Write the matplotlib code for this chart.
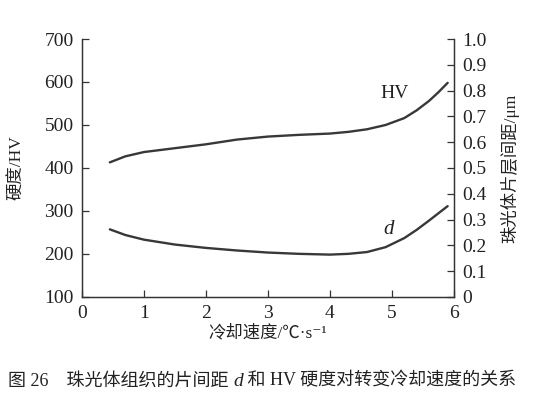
import matplotlib.pyplot as plt
import numpy as np

plt.rcParams['font.family'] = ['Liberation Serif', 'Noto Sans CJK SC', 'DejaVu Sans']

# cooling rate, degC/s
hv_x = [0.45, 0.7, 1.0, 1.5, 2.0, 2.5, 3.0, 3.5, 4.0, 4.3, 4.6, 4.9, 5.2, 5.4, 5.6, 5.75, 5.9]
hv = [413, 427, 437, 446, 455, 466, 473, 477, 480, 484, 490, 500, 516, 534, 556, 576, 598]
d_x = [0.45, 0.7, 1.0, 1.5, 2.0, 2.5, 3.0, 3.5, 4.0, 4.3, 4.6, 4.9, 5.2, 5.4, 5.6, 5.75, 5.9]
d = [0.262, 0.24, 0.222, 0.203, 0.19, 0.18, 0.172, 0.167, 0.164, 0.167, 0.174, 0.193, 0.228, 0.26, 0.296, 0.324, 0.352]

x_ticks = [0, 1, 2, 3, 4, 5, 6]
hv_ticks = [100, 200, 300, 400, 500, 600, 700]
d_ticks = [0, 0.1, 0.2, 0.3, 0.4, 0.5, 0.6, 0.7, 0.8, 0.9, 1.0]

line_c = '#383838'
txt_c = '#222222'
fs = 14

fig = plt.figure(figsize=(5.39, 3.98), dpi=100)
ax = fig.add_axes([0.152, 0.254, 0.690, 0.648])
ax2 = ax.twinx()

ax.plot(hv_x, hv, color=line_c, lw=1.7, solid_capstyle='round', solid_joinstyle='round')
ax2.plot(d_x, d, color=line_c, lw=1.7, solid_capstyle='round', solid_joinstyle='round')

ax.set_xlim(0, 6)
ax.set_ylim(100, 700)
ax2.set_ylim(0, 1.0)
ax.set_xticks(x_ticks)
ax.set_yticks(hv_ticks)
ax2.set_yticks(d_ticks)
ax2.set_yticklabels(['0' if v == 0 else f'{v:.1f}' for v in d_ticks])

for a in (ax, ax2):
    a.spines['top'].set_visible(False)
    for s in a.spines.values():
        s.set_linewidth(0.9)
        s.set_color('#333333')
    a.tick_params(direction='in', length=5, width=0.9, labelsize=fs,
                  colors='#333333', labelcolor=txt_c, pad=6)

ax.set_xlabel('冷却速度/℃·s⁻¹', fontsize=12.5, labelpad=2, color=txt_c)
ax.set_ylabel('硬度/HV', fontsize=12.5, labelpad=14, color=txt_c)
ax2.set_ylabel('珠光体片层间距/μm', fontsize=12.5, labelpad=10, color=txt_c)

ax.text(5.05, 574, 'HV', fontsize=14, ha='center', va='center', color=txt_c)
ax2.text(4.94, 0.263, 'd', fontsize=15, style='italic', ha='center', va='center', color=txt_c)

# caption, pieces laid out one after another
parts = [('图 26　珠光体组织的片间距 ', 'normal', 13), ('d', 'italic', 14),
         (' 和 HV 硬度对转变冷却速度的关系', 'normal', 13)]
renderer = fig.canvas.get_renderer()
x = 8
for s, st, size in parts:
    t = fig.text(x / 539, 1 - 381 / 398, s, fontsize=size, style=st, color=txt_c, va='center')
    x = t.get_window_extent(renderer).x1

fig.savefig('out.png', dpi=100)
